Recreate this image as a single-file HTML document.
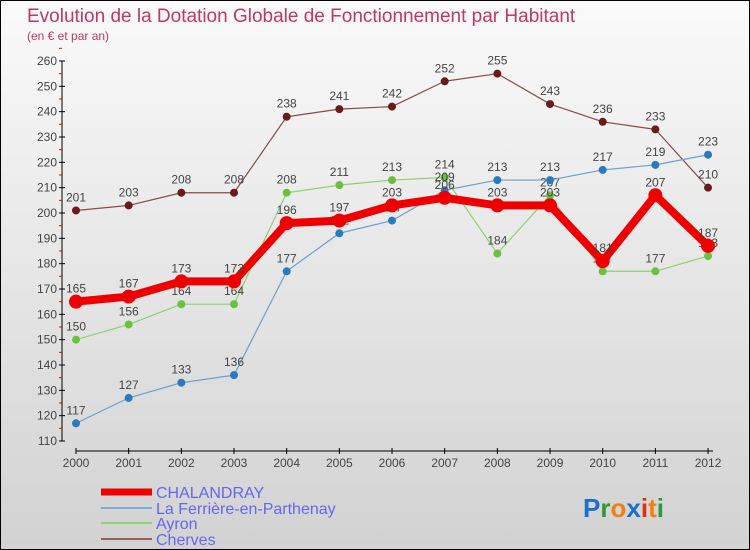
<!DOCTYPE html>
<html><head><meta charset="utf-8"><style>
body{margin:0;}
#wrap{width:748px;height:548px;border:1px solid #000;background:linear-gradient(#fafafa,#d2d2d2);position:relative;overflow:hidden;font-family:"Liberation Sans",sans-serif;}
</style></head><body>
<div id="wrap">
<svg id="svg" width="748" height="548" style="position:absolute;left:0;top:0">
<text x="26" y="21" font-size="19" fill="#c0385f">Evolution de la Dotation Globale de Fonctionnement par Habitant</text>
<text x="26" y="39" font-size="12" fill="#c0385f">(en € et par an)</text>
<g id="axes"></g><g id="series"></g>
<g>
<line x1="100" y1="491" x2="151" y2="491" stroke="#e00" stroke-width="7"/>
<text x="155" y="497" font-size="16" fill="#6666ee">CHALANDRAY</text>
<line x1="100" y1="507" x2="151" y2="507" stroke="#7aaed0" stroke-width="2"/>
<text x="155" y="513" font-size="16" fill="#6666ee">La Ferrière-en-Parthenay</text>
<line x1="100" y1="522" x2="151" y2="522" stroke="#8fd070" stroke-width="2"/>
<text x="155" y="528" font-size="16" fill="#6666ee">Ayron</text>
<line x1="100" y1="538" x2="151" y2="538" stroke="#9a6060" stroke-width="2"/>
<text x="155" y="544" font-size="16" fill="#6666ee">Cherves</text>
</g>
<text x="582" y="516" font-size="26" font-weight="bold"><tspan fill="#1a6fcf">P</tspan><tspan fill="#2a9a3a">r</tspan><tspan fill="#f08010">o</tspan><tspan fill="#1a6fcf">x</tspan><tspan fill="#e03010">i</tspan><tspan fill="#f08010">t</tspan><tspan fill="#2a9a3a">i</tspan></text>
</svg>
</div>
<script>
const years=[2000,2001,2002,2003,2004,2005,2006,2007,2008,2009,2010,2011,2012];
const yTicks=[110,120,130,140,150,160,170,180,190,200,210,220,230,240,250,260];
const chalandray=[165,167,173,173,196,197,203,206,203,203,181,207,187];
const ferriere=[117,127,133,136,177,192,197,209,213,213,217,219,223];
const ayron=[150,156,164,164,208,211,213,214,184,207,177,177,183];
const cherves=[201,203,208,208,238,241,242,252,255,243,236,233,210];
const NS="http://www.w3.org/2000/svg";
function xS(i){return 75+i*52.67;}
function yS(v){return 440-(v-110)*(380/150);}
function mk(tag,attrs,parent){const e=document.createElementNS(NS,tag);for(const k in attrs)e.setAttribute(k,attrs[k]);parent.appendChild(e);return e;}
const ax=document.getElementById('axes');
let l=mk('line',{x1:61,y1:60,x2:61,y2:440,stroke:'#000'},ax);


yTicks.forEach(v=>{const y=yS(v);
 mk('line',{x1:58,y1:y,x2:64,y2:y,stroke:'#000'},ax);
 mk('line',{x1:58,y1:y-12.67,x2:61,y2:y-12.67,stroke:'#e00'},ax);
 const t=mk('text',{x:56,y:y+4,'font-size':12,fill:'#444','text-anchor':'end'},ax);t.textContent=v;
 
 
});
l=mk('line',{x1:75,y1:450,x2:712,y2:450,stroke:'#000'},ax);


years.forEach((yr,i)=>{const x=xS(i);
 mk('line',{x1:x,y1:447,x2:x,y2:453,stroke:'#000'},ax);
 const t=mk('text',{x:x,y:466,'font-size':12,fill:'#444','text-anchor':'middle'},ax);t.textContent=yr;
 
 
});
const sg=document.getElementById('series');
function draw(data,color,dot,w,r,name){
 const g=mk('g',{},sg);
 
 
 mk('polyline',{points:data.map((v,i)=>xS(i)+','+yS(v)).join(' '),fill:'none',stroke:color,'stroke-width':w,'stroke-linejoin':'round'},g);
 data.forEach((v,i)=>{const c=mk('circle',{cx:xS(i),cy:yS(v),r:r,fill:dot},g);
  
  
  const t=mk('text',{x:xS(i),y:yS(v)-9,'font-size':12,fill:'#444','text-anchor':'middle'},g);t.textContent=v;
  
  
 });
}
draw(cherves,'#8a4a4a','#6a1a1a',1.2,4,'series-cherves');
draw(ayron,'#8fd070','#6cc040',1.2,4,'series-ayron');
draw(ferriere,'#6aa0d0','#2a7ac0',1.2,4,'series-ferriere');
draw(chalandray,'#e00','#e00',8,7,'series-chalandray');
</script>
</body></html>
